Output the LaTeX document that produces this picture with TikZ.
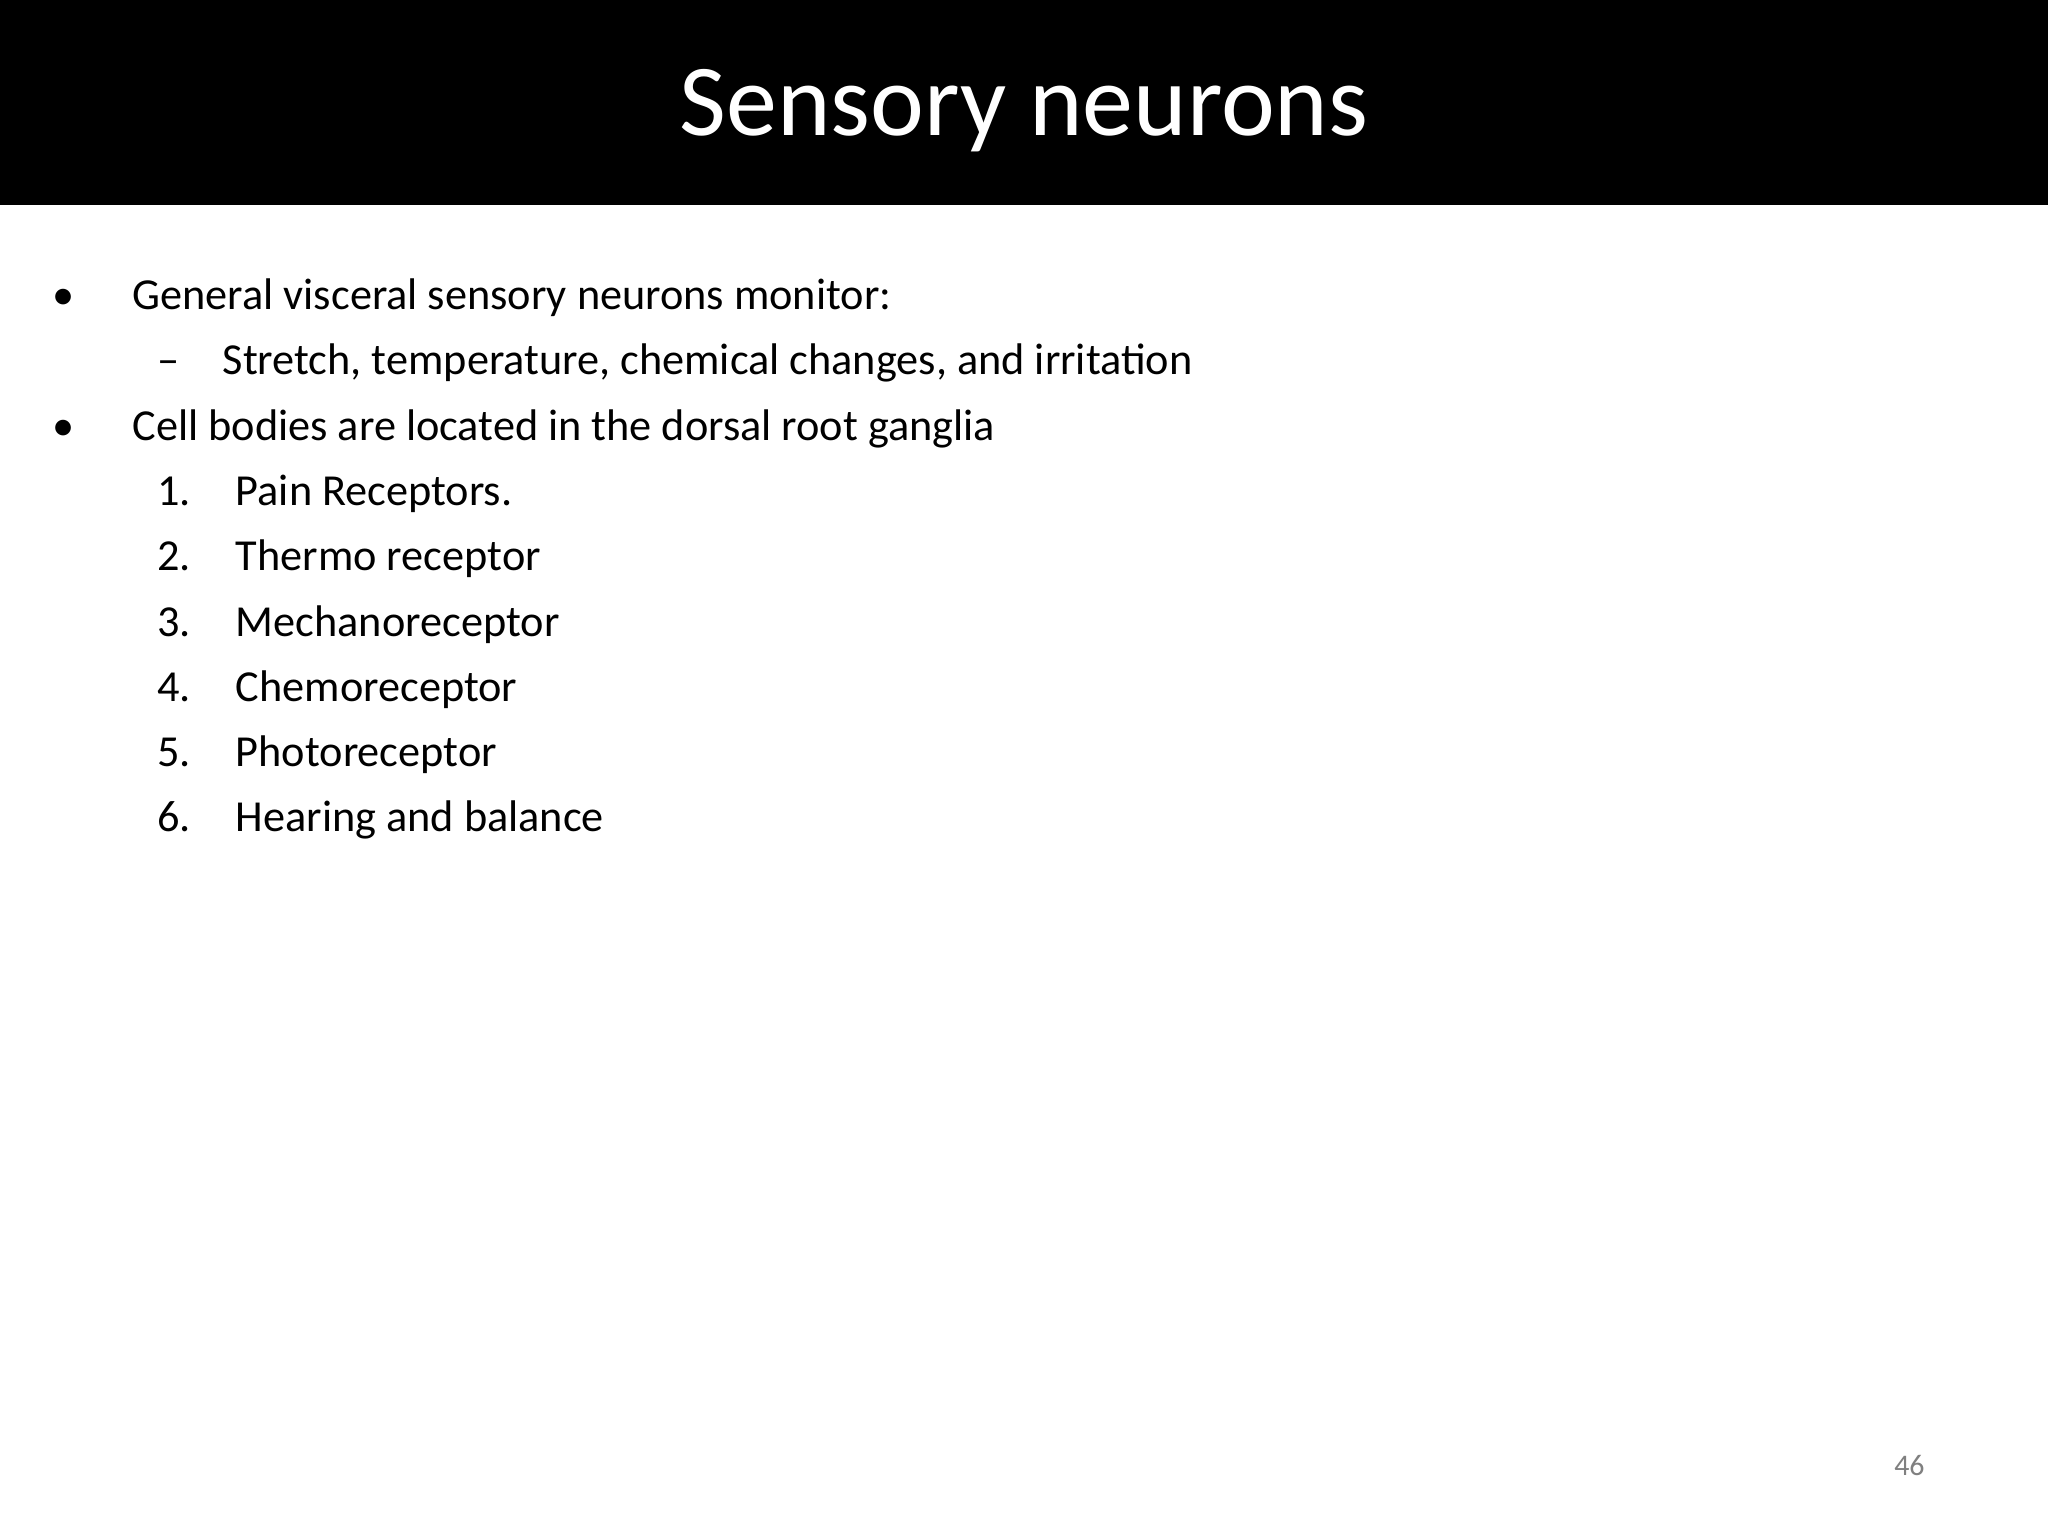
\documentclass[tikz,border=0pt]{standalone}
\usepackage{fontspec}
\setmainfont{Carlito}
\begin{document}
\begin{tikzpicture}[x=0.013061cm,y=-0.013061cm,
  txt/.style={anchor=base west,inner sep=0pt,font=\fontsize{12.6pt}{15pt}\selectfont}]
\useasboundingbox (0,0) rectangle (1568,1176);
\fill[white] (0,0) rectangle (1568,1176);
\fill[black] (0,0) rectangle (1568,157);
\node[anchor=base,inner sep=0pt,text=white,font=\fontsize{29pt}{34pt}\selectfont] (title) at (784,104) {Sensory neurons};
\node[txt] (b1) at (40,237) {•};
\node[txt] (l1) at (101,237) {General visceral sensory neurons monitor:};
\node[txt] (d1) at (120,287) {–};
\node[txt] (l2) at (170,287) {Stretch, temperature, chemical changes, and irritation};
\node[txt] (b2) at (40,337) {•};
\node[txt] (l3) at (101,337) {Cell bodies are located in the dorsal root ganglia};
\foreach \n/\t [count=\i] in {1./Pain Receptors.,2./Thermo receptor,3./Mechanoreceptor,4./Chemoreceptor,5./Photoreceptor,6./Hearing and balance}{
  \node[txt] (n\i) at (120,337+50*\i) {\n};
  \node[txt] (t\i) at (180,337+50*\i) {\t};
}
\node[anchor=base east,inner sep=0pt,text=gray,font=\fontsize{8.5pt}{10pt}\selectfont] (pg) at (1474,1130) {46};
\end{tikzpicture}
\end{document}
